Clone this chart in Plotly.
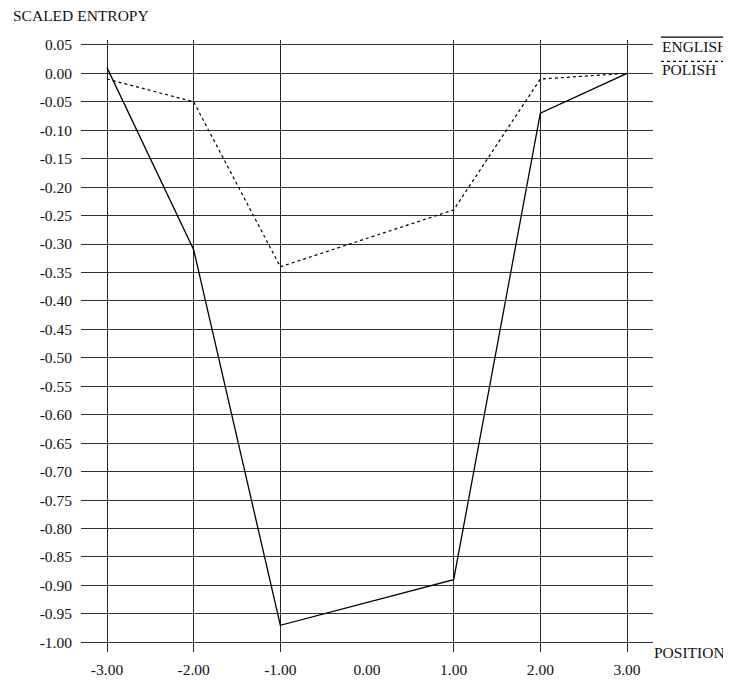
import plotly.graph_objects as go

positions = [-3, -2, -1, 1, 2, 3]
english = [0.01, -0.31, -0.97, -0.89, -0.07, 0.00]
polish = [-0.01, -0.05, -0.34, -0.24, -0.01, 0.00]
x_tick_vals = [-3, -2, -1, 0, 1, 2, 3]
x_tick_text = ["-3.00", "-2.00", "-1.00", "0.00", "1.00", "2.00", "3.00"]
grid_x = [-3, -2, -1, 1, 2, 3]
y_tick_vals = [round(0.05 - 0.05 * i, 2) for i in range(22)]
y_tick_text = ["%.2f" % v for v in y_tick_vals]

FONT = "Liberation Serif"
FS = 15.5

fig = go.Figure()
fig.add_trace(go.Scatter(x=positions, y=english, mode="lines", name="ENGLISH",
                         line=dict(color="black", width=1.3)))
fig.add_trace(go.Scatter(x=positions, y=polish, mode="lines", name="POLISH",
                         line=dict(color="black", width=1.2, dash="dot")))
# invisible trace to activate the gridline axis
fig.add_trace(go.Scatter(x=grid_x, y=[None] * len(grid_x), xaxis="x2",
                         showlegend=False, hoverinfo="skip"))

fig.update_layout(
    width=723, height=682,
    margin=dict(l=73, r=78, t=32, b=23),
    plot_bgcolor="white", paper_bgcolor="white",
    showlegend=False,
    font=dict(family=FONT, size=FS, color="#111"),
    xaxis=dict(range=[-3.3, 3.3], tickvals=x_tick_vals, ticktext=x_tick_text,
               showgrid=False, zeroline=False, showline=False, ticks="",
               ticklabelstandoff=6, tickfont=dict(family=FONT, size=FS)),
    xaxis2=dict(range=[-3.3, 3.3], overlaying="x", tickvals=grid_x,
                showticklabels=False, showgrid=True, gridcolor="#222",
                gridwidth=1, zeroline=False, showline=False, ticks=""),
    yaxis=dict(range=[-1.017, 0.0586], tickvals=y_tick_vals, ticktext=y_tick_text,
               showgrid=True, gridcolor="#333", gridwidth=1, zeroline=False,
               showline=False, ticks="", ticklabelstandoff=8,
               tickfont=dict(family=FONT, size=FS)),
)

fig.add_annotation(text="SCALED ENTROPY", xref="paper", yref="paper",
                   x=-0.1224, y=1.04, xanchor="left", yanchor="middle",
                   showarrow=False, font=dict(family=FONT, size=FS))
fig.add_annotation(text="POSITION", xref="paper", yref="paper",
                   x=0.998, y=0.0, xanchor="left", yanchor="middle",
                   showarrow=False, font=dict(family=FONT, size=FS))
fig.add_annotation(text="ENGLISH", xref="paper", yref="paper",
                   x=1.012, y=0.9888, xanchor="left", yanchor="middle",
                   showarrow=False, font=dict(family=FONT, size=FS))
fig.add_annotation(text="POLISH", xref="paper", yref="paper",
                   x=1.012, y=0.952, xanchor="left", yanchor="middle",
                   showarrow=False, font=dict(family=FONT, size=FS))
fig.add_shape(type="line", xref="paper", yref="paper", x0=1.014, x1=1.126,
              y0=1.0048, y1=1.0048, line=dict(color="black", width=1.2))
fig.add_shape(type="line", xref="paper", yref="paper", x0=1.014, x1=1.126,
              y0=0.965, y1=0.965, line=dict(color="black", width=1.2, dash="dot"))

fig.write_html("out.html")
